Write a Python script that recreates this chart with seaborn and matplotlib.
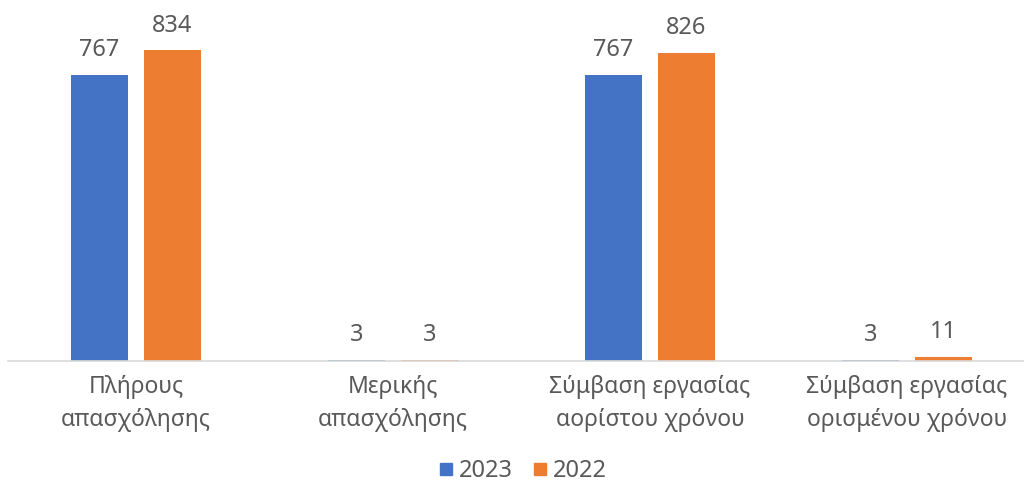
import matplotlib
matplotlib.use("Agg")
import matplotlib.pyplot as plt
import pandas as pd
import seaborn as sns

categories = ["Πλήρους\nαπασχόλησης", "Μερικής\nαπασχόλησης",
              "Σύμβαση εργασίας\nαορίστου χρόνου", "Σύμβαση εργασίας\nορισμένου χρόνου"]
years = ["2023", "2022"]
values_2023 = [767, 3, 767, 3]
values_2022 = [834, 3, 826, 11]
colors = ["#4472C4", "#ED7D31"]

df = pd.DataFrame({
    "category": categories * 2,
    "year": [years[0]] * 4 + [years[1]] * 4,
    "value": values_2023 + values_2022,
})

sns.set_style("white")
plt.rcParams['font.family'] = ['Noto Sans', 'DejaVu Sans']
text_color = "#595959"

fig = plt.figure(figsize=(10.24, 4.86), dpi=100)
ax = fig.add_axes([8 / 1024, 125 / 486, 1016 / 1024, 335.6 / 486])

sns.barplot(data=df, x="category", y="value", hue="year", hue_order=years,
            palette=colors, width=0.568, gap=0.22, saturation=1, ax=ax,
            legend=False, linewidth=0)

for cont in ax.containers:
    ax.bar_label(cont, padding=9, fontsize=17, color=text_color)

ax.set_ylim(0, 900)
ax.set_xlim(-0.498, 3.455)
ax.set_xlabel("")
ax.set_ylabel("")
ax.set_yticks([])
for side in ["left", "right", "top"]:
    ax.spines[side].set_visible(False)
ax.spines["bottom"].set_color("#D9D9D9")
ax.spines["bottom"].set_linewidth(1.2)
ax.tick_params(axis="x", length=0, pad=10, labelsize=16.5, labelcolor=text_color)
for lbl in ax.get_xticklabels():
    lbl.set_linespacing(1.5)

handles = [plt.Line2D([], [], marker="s", linestyle="", markersize=8.5, color=c) for c in colors]
fig.legend(handles, years, loc="center", bbox_to_anchor=(522 / 1024, 1 - 471 / 486),
           ncol=2, frameon=False, fontsize=17, labelcolor=text_color,
           handletextpad=0.2, columnspacing=0.8, handlelength=0.7)

fig.savefig("out.png", dpi=100)
